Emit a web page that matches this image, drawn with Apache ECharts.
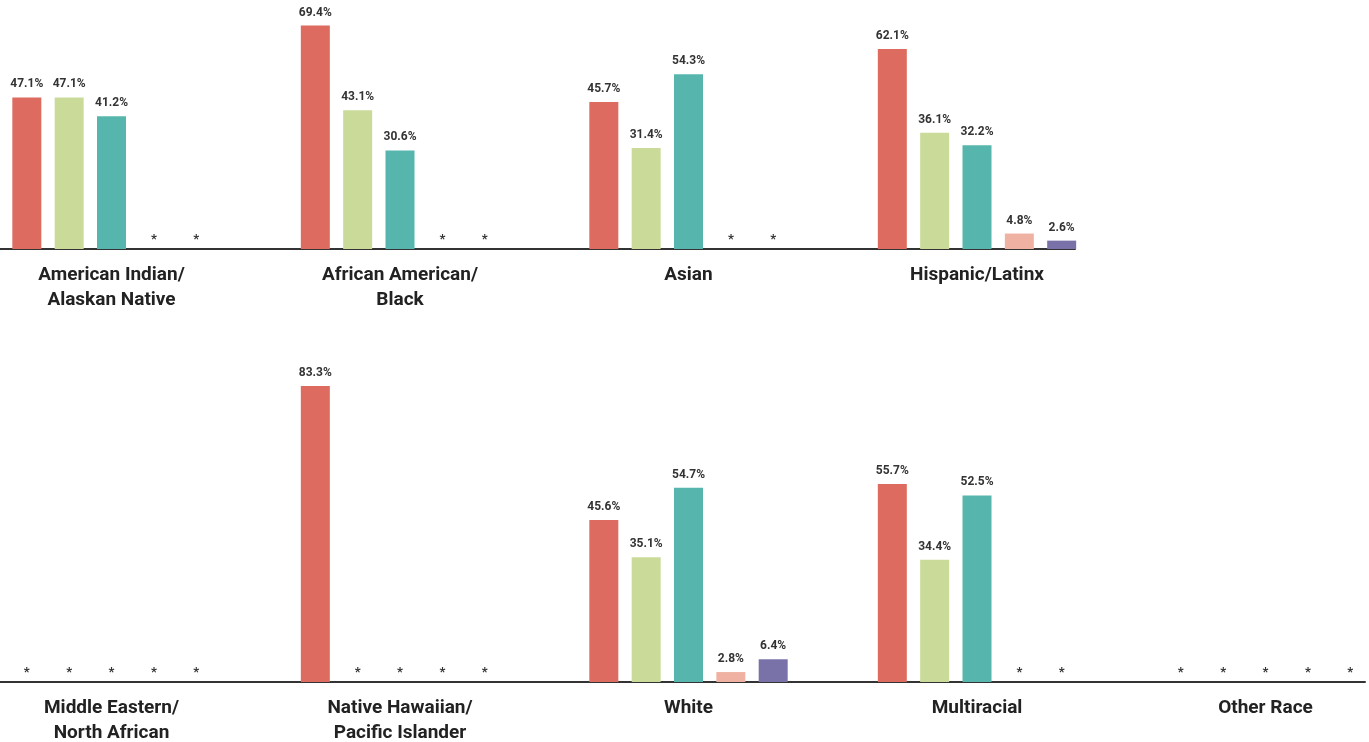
<!DOCTYPE html>
<html>
<head>
<meta charset="utf-8">
<script src="https://cdn.jsdelivr.net/npm/echarts@6/dist/echarts.min.js"></script>
<style>
  html, body { margin: 0; padding: 0; background: #ffffff; }
  #chart { width: 1369px; height: 742px; }
</style>
</head>
<body>
<div id="chart"></div>
<script>
// Race / ethnicity groups, two rows of grouped bars
const topCategories = ['American Indian/\nAlaskan Native', 'African American/\nBlack', 'Asian', 'Hispanic/Latinx'];
const bottomCategories = ['Middle Eastern/\nNorth African', 'Native Hawaiian/\nPacific Islander', 'White', 'Multiracial', 'Other Race'];

// Percentages per measure; null = suppressed (shown as *)
const topSeries1 = [47.1, 69.4, 45.7, 62.1];
const topSeries2 = [47.1, 43.1, 31.4, 36.1];
const topSeries3 = [41.2, 30.6, 54.3, 32.2];
const topSeries4 = [null, null, null, 4.8];
const topSeries5 = [null, null, null, 2.6];

const bottomSeries1 = [null, 83.3, 45.6, 55.7, null];
const bottomSeries2 = [null, null, 35.1, 34.4, null];
const bottomSeries3 = [null, null, 54.7, 52.5, null];
const bottomSeries4 = [null, null, 2.8, null, null];
const bottomSeries5 = [null, null, 6.4, null, null];

const colors = ['#DD6B5F', '#CADB99', '#56B6AE', '#EFB2A2', '#7872A8'];
const FONT = 'Roboto, "Open Sans", sans-serif';

function toData(values) {
  return values.map((v, i) => {
    if (v === null) {
      return {
        value: [i, 0],
        label: { formatter: '*', fontSize: 13, distance: 3 }
      };
    }
    return { value: [i, v] };
  });
}

function makeSeries(rows, gridIdx) {
  return rows.map((vals, k) => ({
    type: 'bar',
    name: 'M' + (k + 1),
    xAxisIndex: gridIdx,
    yAxisIndex: gridIdx,
    barWidth: 29,
    barGap: '46%',
    itemStyle: { color: colors[k] },
    label: {
      show: true,
      position: 'top',
      distance: 7,
      fontFamily: FONT,
      fontWeight: 'bold',
      fontSize: 12,
      color: '#333333',
      formatter: p => p.value[1].toFixed(1) + '%'
    },
    data: toData(vals),
    silent: true
  }));
}

function makeXAxis(gridIdx, cats, max) {
  return {
    type: 'value',
    gridIndex: gridIdx,
    min: -0.3865,
    max: max,
    splitLine: { show: false },
    axisTick: { show: false },
    axisLine: { show: true, onZero: false, lineStyle: { color: '#333333', width: 2 } },
    axisLabel: {
      customValues: cats.map((c, i) => i),
      formatter: v => cats[Math.round(v)] || '',
      fontFamily: FONT,
      fontWeight: 'bold',
      fontSize: 19,
      lineHeight: 25,
      color: '#222222',
      margin: 14,
      showMinLabel: true,
      showMaxLabel: true
    }
  };
}

function makeYAxis(gridIdx, max) {
  return {
    type: 'value',
    gridIndex: gridIdx,
    min: 0,
    max: max,
    show: false,
    splitLine: { show: false }
  };
}

const chart = echarts.init(document.getElementById('chart'), null, { renderer: 'canvas' });
chart.setOption({
  backgroundColor: '#ffffff',
  animation: false,
  grid: [
    { left: 0, top: 14, width: 1075, height: 235, containLabel: false, outerBoundsMode: 'none' },
    { left: 0, top: 380, width: 1365, height: 302, containLabel: false, outerBoundsMode: 'none' }
  ],
  xAxis: [
    makeXAxis(0, topCategories, 3.3397),
    makeXAxis(1, bottomCategories, 4.3449)
  ],
  yAxis: [
    makeYAxis(0, 73),
    makeYAxis(1, 85)
  ],
  series: [
    ...makeSeries([topSeries1, topSeries2, topSeries3, topSeries4, topSeries5], 0),
    ...makeSeries([bottomSeries1, bottomSeries2, bottomSeries3, bottomSeries4, bottomSeries5], 1)
  ]
});
</script>
</body>
</html>
